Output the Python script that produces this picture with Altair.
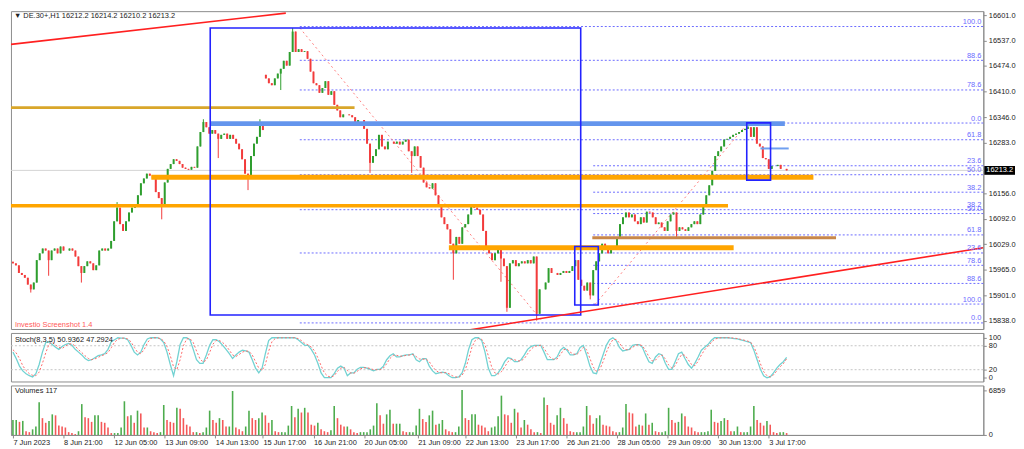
import altair as alt
import pandas as pd
import numpy as np

# ---------------- data ----------------
# hourly closes (one value per drawn candle), DE.30+ H1, 7 Jun - 3 Jul 2023
closes = [
    # 7 Jun - 15 Jun
    15981, 15976, 15957, 15952, 15945, 15928, 15916, 15933, 15989, 16006,
    16018, 16013, 15989, 16013, 16018, 16006, 16023, 16013, 16013, 16018,
    16013, 15998, 15974, 15957, 15974, 15986, 15981, 15964, 15976, 16013,
    16018, 16013, 16018, 16037, 16086, 16120, 16079, 16062, 16086, 16108,
    16120, 16127, 16151, 16181, 16193, 16205, 16200, 16193, 16159, 16144,
    16127, 16183, 16217, 16229, 16241, 16237, 16229, 16220, 16217, 16215,
    16222, 16220, 16273, 16309, 16334, 16321, 16305, 16314, 16305, 16292,
    16302, 16305, 16292, 16302, 16292, 16280, 16266, 16241, 16205, 16200,
    16249, 16280, 16297, 16334, 16314,
    # 15 Jun - 22 Jun
    16443, 16431, 16426, 16443, 16455, 16467, 16487, 16475, 16509, 16560,
    16509, 16516, 16509, 16511, 16492, 16460, 16431, 16426, 16407, 16419,
    16436, 16402, 16411, 16377, 16363, 16346, 16353, 16353, 16351, 16346,
    16334, 16339, 16339, 16317, 16280, 16232, 16249, 16266, 16302, 16273,
    16266, 16285, 16285, 16280, 16285, 16278, 16285, 16290, 16261, 16249,
    16273, 16249, 16220, 16183, 16171, 16168, 16181, 16151, 16122, 16096,
    16079, 16066, 16030, 16006, 16047, 16030, 16071, 16079, 16103, 16122,
    16120, 16115, 16103, 16062, 16023, 16006, 15989, 16006,
    # 22 Jun - 30 Jun
    16018, 15993, 15974, 15870, 15981, 15989, 15974, 15981, 15986, 15981,
    15989, 15981, 15998, 15855, 15916, 15916, 15933, 15969, 15957, 15957,
    15952, 15957, 15962, 15957, 15962, 15974, 15989, 15940, 15925, 15913,
    15933, 15901, 15964, 15986, 16006, 16030, 16018, 16006, 16018, 16023,
    16042, 16079, 16096, 16108, 16096, 16103, 16086, 16079, 16096, 16083,
    16110, 16108, 16096, 16079, 16083, 16071, 16062, 16086, 16103, 16108,
    16062, 16071, 16066, 16062, 16071, 16079, 16086, 16079, 16103, 16127,
    16151, 16176,
    # 30 Jun - 3 Jul
    16212, 16249, 16261, 16273, 16290, 16292, 16297, 16302, 16305, 16309, 16314,
    16317, 16321, 16297, 16321, 16280, 16273, 16244, 16241, 16217, 16224, 16224,
    16227, 16217, 16217, 16213.2,
]
first_open = 15985
open_overrides = {85: 16452}
low_wicks = {6: 15908, 12: 15950, 23: 15933, 50: 16091, 69: 16244, 79: 16164,
             90: 16414, 120: 16207, 134: 16207, 148: 15940, 164: 15935,
             166: 15860, 176: 15838, 194: 15891, 223: 16042}
high_wicks = {35: 16134, 64: 16341, 83: 16341, 94: 16569, 247: 16334}

stoch_main = [
    64, 48, 29, 17, 10, 5, 2, 10, 33, 64,
    88, 90, 83, 76, 71, 78, 83, 86, 81, 71,
    64, 57, 48, 43, 45, 50, 55, 57, 60, 71,
    90, 95, 100, 99, 99, 95, 81, 64, 57, 64,
    83, 97, 100, 100, 100, 97, 88, 64, 33, 5,
    40, 83, 100, 100, 95, 71, 45, 36, 36, 57,
    81, 95, 95, 90, 81, 71, 60, 48, 57, 64,
    69, 67, 64, 45, 24, 12, 24, 60, 93, 100,
    100, 100, 100, 100, 100, 100, 100, 95, 88, 81,
    81, 71, 57, 36, 12, 0, 0, 0, 10, 24,
    29, 24, 5, 12, 12, 21, 26, 26, 24, 21,
    17, 21, 21, 29, 45, 55, 60, 52, 52, 55,
    57, 57, 60, 45, 40, 48, 48, 29, 17, 10,
    12, 14, 12, 5, 0, 0, 2, 12, 36, 71,
    95, 100, 100, 93, 64, 24, 5, 5, 12, 24,
    40, 50, 48, 40, 40, 45, 57, 71, 78, 81,
    81, 81, 64, 45, 45, 45, 52, 69, 76, 69,
    57, 57, 60, 76, 81, 57, 29, 12, 10, 33,
    57, 81, 95, 100, 93, 76, 67, 69, 71, 81,
    83, 83, 76, 57, 40, 36, 52, 60, 57, 36,
    21, 21, 40, 60, 64, 48, 33, 24, 36, 52,
    69, 76, 83, 93, 100, 100, 100, 100, 100, 99,
    98, 97, 95, 93, 90, 88, 69, 45, 21, 5,
    0, 2, 12, 24, 33, 40, 50.9362,
]
stoch_signal = [
    70, 62, 48, 30, 18, 10, 6, 5, 14, 36,
    62, 84, 89, 82, 76, 73, 79, 84, 85, 79,
    70, 63, 55, 48, 45, 47, 51, 55, 58, 63,
    75, 89, 96, 99, 99, 97, 90, 76, 64, 60,
    70, 87, 98, 100, 100, 98, 92, 78, 55, 27,
    20, 45, 80, 97, 98, 88, 67, 48, 39, 44,
    63, 84, 93, 93, 88, 80, 69, 57, 53, 58,
    64, 67, 66, 57, 40, 24, 18, 33, 66, 90,
    98, 100, 100, 100, 100, 100, 100, 98, 93, 86,
    82, 77, 67, 50, 30, 12, 4, 1, 5, 16,
    24, 26, 18, 12, 11, 16, 22, 25, 25, 23,
    20, 20, 20, 24, 35, 48, 56, 56, 54, 54,
    56, 57, 58, 53, 47, 46, 47, 40, 28, 18,
    13, 12, 13, 10, 5, 2, 1, 6, 20, 47,
    76, 93, 98, 96, 82, 55, 28, 12, 9, 15,
    27, 40, 46, 45, 42, 42, 48, 60, 71, 78,
    80, 81, 74, 60, 50, 46, 47, 58, 70, 72,
    64, 59, 58, 66, 76, 70, 48, 27, 16, 20,
    40, 63, 83, 95, 96, 87, 75, 70, 70, 76,
    81, 83, 80, 68, 52, 42, 44, 53, 57, 47,
    32, 24, 30, 46, 58, 56, 45, 33, 30, 41,
    57, 70, 79, 88, 96, 99, 100, 100, 100, 100,
    99, 98, 96, 94, 92, 89, 78, 58, 35, 15,
    5, 2, 7, 17, 27, 35, 47.2924,
]
volumes = [
    2290, 2290, 2000, 2150, 570, 430, 860, 1290, 5000, 2570,
    1860, 2150, 3150, 3000, 1430, 1290, 1140, 430, 290, 140,
    570, 4720, 2720, 2570, 2000, 3000, 3000, 2000, 1860, 1140,
    290, 290, 290, 1140, 5150, 2860, 3000, 1860, 3720, 3290,
    1140, 1140, 570, 430, 290, 430, 4580, 2290, 2000, 1860,
    4150, 4000, 2570, 1570, 1290, 430, 430, 290, 430, 1140,
    3720, 2290, 1860, 2570, 2290, 1290, 1290, 6720, 1140, 860,
    570, 1290, 3720, 2570, 2290, 2570, 3430, 3000, 1860, 2290,
    570, 430, 430, 430, 1430, 4430, 2720, 4000, 3430, 4150,
    3430, 1570, 1430, 1860, 860, 570, 430, 720, 4430, 2570,
    1570, 1290, 1290, 860, 430, 290, 430, 430, 430, 860,
    1430, 4860, 3000, 1720, 3150, 3860, 1720, 1720, 1720, 570,
    430, 430, 430, 1430, 4000, 2430, 2000, 3000, 3720, 1570,
    1720, 2290, 860, 570, 430, 430, 1290, 6859, 2570, 2290,
    3150, 3150, 1570, 1430, 1140, 570, 1140, 1290, 2860, 6010,
    3150, 3000, 1860, 4000, 3430, 1140, 2290, 1570, 860, 430,
    430, 290, 5720, 4580, 1860, 1570, 3000, 4150, 2570, 1720,
    570, 430, 430, 430, 1290, 4430, 3000, 1720, 2570, 3000,
    1570, 1430, 1290, 570, 430, 430, 1140, 4720, 3430, 3290,
    1290, 1570, 1430, 3290, 1570, 1860, 570, 430, 430, 570,
    4150, 2290, 1860, 2000, 3290, 2860, 1290, 1140, 570, 430,
    430, 430, 570, 3860, 2000, 1860, 2150, 2570, 2290, 570,
    570, 1290, 430, 430, 430, 1290, 4430, 2290, 1860, 1430,
    2150, 1570, 430, 290, 430, 430, 290,
]

price_ticks = [15838, 15901, 15965, 16029, 16092, 16156, 16283, 16346,
               16410, 16474, 16537, 16601]
time_tick_idx = [0, 17, 34, 51, 68, 84, 101, 118, 136, 152, 169, 186, 203, 220, 237, 254]
time_tick_labels = ["7 Jun 2023", "8 Jun 21:00", "12 Jun 05:00", "13 Jun 09:00",
                    "14 Jun 13:00", "15 Jun 17:00", "16 Jun 21:00", "20 Jun 05:00",
                    "21 Jun 09:00", "22 Jun 13:00", "23 Jun 17:00", "26 Jun 21:00",
                    "28 Jun 05:00", "29 Jun 09:00", "30 Jun 13:00", "3 Jul 17:00"]

last_price = 16213.2
# drawn objects: (price, from bar, to bar)
gold_zone = (16370, -0.66, 114.8)
orange_zones = [(16196, 46.5, 269.0), (16020, 146.5, 242.2)]
orange_thin_zone = (16125, -0.66, 240.3)
brown_zone = (16045, 194.7, 276.6)
blue_zone = (16330, 66.3, 259.4)
blue_small_line = (16268, 251.2, 260.7)
# rectangles: (bar from, bar to, price low, price high)
boxes = [(66.3, 190.8, 15852, 16569), (188.8, 196.7, 15877, 16023), (246.6, 254.6, 16189, 16332)]
# trend lines: (bar1, price1, bar2, price2)
trend_lines = [(-0.66, 16528, 91.7, 16606), (152.8, 15814, 326.1, 16020)]
# fibonacci retracements: (bar start, price at 0.0, price at 100.0)
fib_down = (96.4, 15832.2, 16572.6)
fib_up = (195.0, 16331.5, 15879.3)
fib_levels = [0.0, 23.6, 38.2, 50.0, 61.8, 78.6, 88.6, 100.0]
fib_diagonals = [(96.4, 16569, 177.9, 15836), (195.7, 15879, 246.9, 16331)]

# ---------------- layout / style ----------------
W, H_MAIN, H_STOCH, H_VOL = 982, 321, 49, 50
XMIN, XMAX = -0.66, 326.1
PMIN, PMAX = 15817, 16611
FONT = "Liberation Sans"
FS = 7.5
GREEN, RED = "#2e9e2e", "#f23b3b"
FIB = "#6b6bff"

n = len(closes)
opens = [first_open] + closes[:-1]
for k, v in open_overrides.items():
    opens[k] = v
highs = [max(o, c) for o, c in zip(opens, closes)]
lows = [min(o, c) for o, c in zip(opens, closes)]
for k, v in high_wicks.items():
    highs[k] = v
for k, v in low_wicks.items():
    lows[k] = v
candles = pd.DataFrame({"i": range(n), "o": opens, "c": closes, "h": highs, "l": lows})
candles["dir"] = np.where(candles["c"] >= candles["o"], "up", "down")

xs = alt.Scale(domain=[XMIN, XMAX], nice=False, zero=False, padding=0)
ys = alt.Scale(domain=[PMIN, PMAX], nice=False, zero=False, padding=0)
yax = alt.Axis(orient="right", values=price_ticks, format=".1f", title=None,
               tickSize=3, labelPadding=2, grid=False, labelOverlap=False,
               labelFont=FONT, labelFontSize=FS)
dir_color = alt.Color("dir:N", scale=alt.Scale(domain=["up", "down"], range=[GREEN, RED]), legend=None)


def X(f):
    return alt.X(f, type="quantitative", scale=xs, axis=None)


def Y(f):
    return alt.Y(f, type="quantitative", scale=ys, axis=yax)


def hline(z, color, width, dash=None):
    df = pd.DataFrame({"p": [z[0]], "a": [z[1]], "b": [z[2]]})
    kw = dict(color=color, strokeWidth=width)
    if dash:
        kw["strokeDash"] = dash
    return alt.Chart(df).mark_rule(**kw).encode(x=X("a"), x2="b", y=Y("p"))


def segments(lst, color, width, dash=None):
    df = pd.DataFrame(lst, columns=["a", "p1", "b", "p2"])
    kw = dict(color=color, strokeWidth=width, clip=True)
    if dash:
        kw["strokeDash"] = dash
    return alt.Chart(df).mark_rule(**kw).encode(x=X("a"), y=Y("p1"), x2="b", y2="p2")


def label(text, x, y, color="#222", size=FS, align="left"):
    return alt.Chart(pd.DataFrame({"t": [text]})).mark_text(
        align=align, baseline="middle", font=FONT, fontSize=size, color=color
    ).encode(x=alt.value(x), y=alt.value(y), text="t:N")


# fib tables
fib_rows = []
for lv in fib_levels:
    p = fib_down[1] + lv / 100 * (fib_down[2] - fib_down[1])
    fib_rows.append({"a": fib_down[0], "b": XMAX, "p": p, "lab": f"{lv:.1f}"})
    p2 = fib_up[1] + lv / 100 * (fib_up[2] - fib_up[1])
    fib_rows.append({"a": fib_up[0], "b": XMAX, "p": p2, "lab": f"{lv:.1f}"})
fib_df = pd.DataFrame(fib_rows)

layers = []
layers.append(alt.Chart(pd.DataFrame({"p": [last_price]})).mark_rule(color="#d4d4d4", strokeWidth=1)
              .encode(y=Y("p")))
layers.append(alt.Chart(fib_df).mark_rule(color=FIB, strokeWidth=1, strokeDash=[2, 2])
              .encode(x=X("a"), x2="b", y=Y("p")))
layers.append(segments(fib_diagonals, "#ff8080", 1, [2, 3]))
layers.append(alt.Chart(candles).mark_rule(strokeWidth=1).encode(x=X("i"), y=Y("l"), y2="h", color=dir_color))
layers.append(alt.Chart(candles).mark_bar(width=2).encode(x=X("i"), y=Y("o"), y2="c", color=dir_color))
layers.append(hline(gold_zone, "#d9a62a", 3))
layers.append(hline(orange_thin_zone, "#ffa500", 3.5))
for z in orange_zones:
    layers.append(hline(z, "#ffa500", 5))
layers.append(hline(brown_zone, "#c8874a", 3))
layers.append(hline(blue_zone, "#6495ed", 5))
layers.append(hline(blue_small_line, "#6f9ff0", 2))
box_df = pd.DataFrame(boxes, columns=["a", "b", "lo", "hi"])
layers.append(alt.Chart(box_df).mark_rect(filled=False, stroke="#2323ff", strokeWidth=1.6)
              .encode(x=X("a"), x2="b", y=Y("lo"), y2="hi"))
layers.append(segments(trend_lines, "#ff2020", 1.6))
layers.append(alt.Chart(fib_df).mark_text(align="right", baseline="bottom", dy=-0.5, font=FONT,
                                          fontSize=FS, color=FIB)
              .encode(x=alt.value(W - 2), y=Y("p"), text="lab:N"))
layers.append(label("\u25bc DE.30+,H1  16212.2 16214.2 16210.2 16213.2", 3, 5))
layers.append(label("Investio Screenshot 1.4", 4, H_MAIN - 4, color="#ff5a5a"))
pb = pd.DataFrame({"p": [last_price], "lo": [last_price - 11], "hi": [last_price + 11],
                   "t": [f"{last_price:.1f}"]})
layers.append(alt.Chart(pb).mark_rect(color="#000000")
              .encode(x=alt.value(W + 1), x2=alt.value(W + 32), y=Y("lo"), y2="hi"))
layers.append(alt.Chart(pb).mark_text(align="center", baseline="middle", font=FONT, fontSize=FS,
                                      color="#ffffff")
              .encode(x=alt.value(W + 16.5), y=Y("p"), text="t:N"))

main = alt.layer(*layers).properties(width=W, height=H_MAIN)

# ---- stochastic ----
st = pd.DataFrame({"i": np.linspace(0, n - 1, len(stoch_main)), "k": stoch_main, "d": stoch_signal})
sys_ = alt.Scale(domain=[-9.5, 112], nice=False, zero=False, padding=0)
sax = alt.Axis(orient="right", values=[0, 20, 80, 100], title=None, tickSize=3, labelPadding=2,
               format="d", grid=False, labelOverlap=False, labelFont=FONT, labelFontSize=FS)
stoch = alt.layer(
    alt.Chart(pd.DataFrame({"lv": [20, 80]})).mark_rule(color="#c4c4c4", strokeDash=[2, 2])
    .encode(y=alt.Y("lv:Q", scale=sys_, axis=sax)),
    alt.Chart(st).mark_line(color="#72d2d2", strokeWidth=1.3)
    .encode(x=X("i"), y=alt.Y("k:Q", scale=sys_, axis=sax)),
    alt.Chart(st).mark_line(color="#ff6a6a", strokeWidth=1, strokeDash=[2, 2])
    .encode(x=X("i"), y=alt.Y("d:Q", scale=sys_, axis=sax)),
    label("Stoch(8,3,5) 50.9362 47.2924", 4, 7),
).properties(width=W, height=H_STOCH)

# ---- volumes ----
vol = pd.DataFrame({"i": np.linspace(0, n - 1, len(volumes)), "v": volumes})
vol["dir"] = np.where(vol["v"].diff().fillna(0) >= 0, "up", "down")
vs = alt.Scale(domain=[0, 7573], nice=False, padding=0)
vax = alt.Axis(orient="right", values=[0, 6859], title=None, tickSize=3, labelPadding=2,
               format="d", grid=False, labelOverlap=False, labelFont=FONT, labelFontSize=FS)
label_expr = ("[" + ",".join(f"'{s}'" for s in time_tick_labels) + "][indexof(["
              + ",".join(str(v) for v in time_tick_idx) + "], datum.value)]")
xax = alt.Axis(orient="bottom", values=time_tick_idx, labelExpr=label_expr, title=None, tickSize=3,
               labelAlign="left", labelPadding=1, labelFlush=False, labelOverlap=False, grid=False,
               labelFont=FONT, labelFontSize=FS)
volume = alt.layer(
    alt.Chart(vol).mark_bar(width=1.6, opacity=0.85).encode(
        x=alt.X("i:Q", scale=xs, axis=xax),
        y=alt.Y("v:Q", scale=vs, axis=vax),
        color=alt.Color("dir:N", scale=alt.Scale(domain=["up", "down"], range=["#4fae4f", "#ff7a7a"]),
                        legend=None)),
    label("Volumes 117", 4, 6),
).properties(width=W, height=H_VOL)

chart = alt.vconcat(main, stoch, volume, spacing=2, padding=0, background="#ffffff").configure_view(
    stroke="#8c8c8c", strokeWidth=1
).configure_axis(
    labelFont=FONT, labelFontSize=FS, labelColor="#222222", domainColor="#8c8c8c",
    tickColor="#8c8c8c"
)

chart.save("out.html", embed_options={"renderer": "svg", "actions": False})
